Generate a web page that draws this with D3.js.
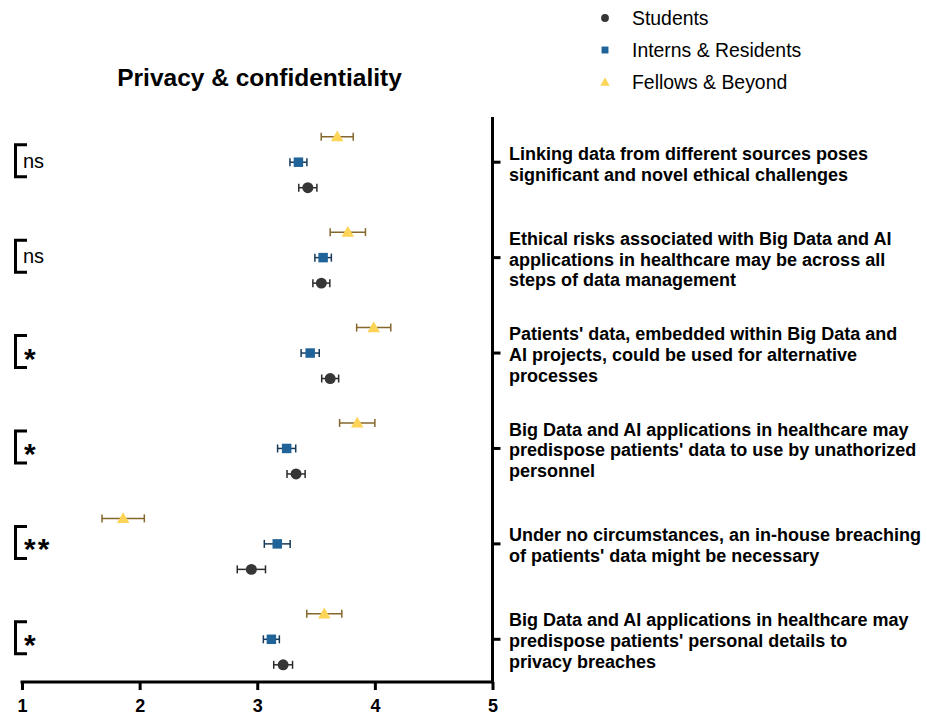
<!DOCTYPE html>
<html>
<head>
<meta charset="utf-8">
<script src="https://cdn.jsdelivr.net/npm/d3@7"></script>
<style>
  html, body { margin: 0; padding: 0; background: #fff; }
  svg { display: block; font-family: "Liberation Sans", Arial, sans-serif; }
</style>
</head>
<body>
<svg id="chart" width="927" height="717"></svg>
<script>
// Survey statements (top to bottom)
const statements = [
  ["Linking data from different sources poses", "significant and novel ethical challenges"],
  ["Ethical risks associated with Big Data and AI", "applications in healthcare may be across all", "steps of data management"],
  ["Patients' data, embedded within Big Data and", "AI projects, could be used for alternative", "processes"],
  ["Big Data and AI applications in healthcare may", "predispose patients' data to use by unathorized", "personnel"],
  ["Under no circumstances, an in-house breaching", "of patients' data might be necessary"],
  ["Big Data and AI applications in healthcare may", "predispose patients' personal details to", "privacy breaches"]
];
const statementIds = ["s1", "s2", "s3", "s4", "s5", "s6"];

const groupNames = ["Students", "Interns & Residents", "Fellows & Beyond"];

// Mean agreement score and error per group
const studentsMean = [3.43, 3.545, 3.62, 3.33, 2.95, 3.22];
const studentsErr  = [0.077, 0.072, 0.072, 0.077, 0.12, 0.08];
const internsMean  = [3.35, 3.56, 3.45, 3.25, 3.17, 3.12];
const internsErr   = [0.072, 0.07, 0.077, 0.077, 0.11, 0.068];
const fellowsMean  = [3.68, 3.77, 3.99, 3.85, 1.86, 3.57];
const fellowsErr   = [0.136, 0.15, 0.145, 0.15, 0.18, 0.149];

const significance = ["ns", "ns", "*", "*", "**", "*"];
const xTicks = [1, 2, 3, 4, 5];

const svg = d3.select("#chart");

const x = d3.scaleLinear().domain([1, 5]).range([22, 492.5]);
const y = d3.scaleBand().domain(statementIds).range([114.5, 687]);
const yc = id => y(id) + y.bandwidth() / 2;
// vertical offset of each group inside a statement row
const sub = d3.scalePoint().domain(["fellows", "interns", "students"]).range([-25.5, 25.5]);

const series = [
  { key: "students", name: groupNames[0], mean: studentsMean, err: studentsErr, fill: "#363636", bar: "#2b2b2b", shape: d3.symbolCircle, size: 95 },
  { key: "interns",  name: groupNames[1], mean: internsMean,  err: internsErr,  fill: "#1f6398", bar: "#173a58", shape: d3.symbolSquare, size: 90 },
  { key: "fellows",  name: groupNames[2], mean: fellowsMean,  err: fellowsErr,  fill: "#fdd456", bar: "#85672d", shape: d3.symbolTriangle, size: 68 }
];

// Title
svg.append("text")
  .attr("x", 259.5).attr("y", 86)
  .attr("text-anchor", "middle")
  .attr("font-size", 24.5).attr("font-weight", "bold")
  .attr("fill", "#000")
  .text("Privacy & confidentiality");

// Bottom axis
const axisY = 682;
const xAxis = svg.append("g").attr("transform", `translate(0,${axisY})`)
  .call(d3.axisBottom(x).tickValues(xTicks).tickFormat(d3.format("d")).tickSizeOuter(0).tickSizeInner(8).tickPadding(9));
xAxis.select(".domain").attr("stroke", "#000").attr("stroke-width", 3).attr("d", `M${x(1) - 1.5},0H${x(5) + 1.5}`);
xAxis.selectAll(".tick line").attr("stroke", "#000").attr("stroke-width", 3);
xAxis.selectAll(".tick text")
  .style("font-size", "18px").style("font-weight", "bold").style("font-family", "'Liberation Sans', Arial, sans-serif")
  .attr("fill", "#000");

// Right-hand category axis with statement labels
const yAxis = svg.append("g").attr("transform", `translate(${x(5)},0)`)
  .call(d3.axisRight(y).tickSizeOuter(0).tickSizeInner(8).tickFormat(""));
yAxis.select(".domain").attr("stroke", "#000").attr("stroke-width", 3).attr("d", `M0,117V${axisY + 1.5}`);
yAxis.selectAll(".tick line").attr("stroke", "#000").attr("stroke-width", 3);

const lineH = 20.8;
statementIds.forEach((id, i) => {
  const lines = statements[i];
  const c = yc(id) + 1.5;
  const t = svg.append("text")
    .attr("x", 509)
    .attr("font-size", 18).attr("font-weight", "bold").attr("fill", "#000");
  lines.forEach((ln, j) => {
    t.append("tspan")
      .attr("x", 509)
      .attr("y", c - (lines.length - 1) * lineH / 2 + j * lineH + 6.5)
      .text(ln);
  });
});

// Error bars and markers
series.forEach(s => {
  const g = svg.append("g");
  statementIds.forEach((id, i) => {
    const cy = yc(id) + sub(s.key);
    const lo = x(s.mean[i] - s.err[i]), hi = x(s.mean[i] + s.err[i]);
    g.append("line").attr("x1", lo).attr("x2", hi).attr("y1", cy).attr("y2", cy)
      .attr("stroke", s.bar).attr("stroke-width", 1.5);
    [lo, hi].forEach(xx => g.append("line").attr("x1", xx).attr("x2", xx).attr("y1", cy - 4).attr("y2", cy + 4)
      .attr("stroke", s.bar).attr("stroke-width", 1.5));
    g.append("path")
      .attr("d", d3.symbol().type(s.shape).size(s.size)())
      .attr("transform", `translate(${x(s.mean[i])},${cy + (s.key === "fellows" ? 1 : 0)})`)
      .attr("fill", s.fill);
  });
});

// Significance brackets
statementIds.forEach((id, i) => {
  const c = yc(id) - 1.5;
  svg.append("path")
    .attr("d", `M27,${c - 16}H15.5V${c + 16}H27`)
    .attr("fill", "none").attr("stroke", "#000").attr("stroke-width", 3);
  if (significance[i] === "ns") {
    svg.append("text").attr("x", 23).attr("y", c + 7)
      .attr("font-size", 20).attr("fill", "#000").text("ns");
  } else {
    svg.append("text").attr("x", 24).attr("y", c + 17)
      .attr("font-size", 30).attr("font-weight", "bold").attr("fill", "#000")
      .attr("letter-spacing", 2)
      .text(significance[i]);
  }
});

// Legend
const legend = svg.append("g");
series.forEach((s, i) => {
  const ly = 18 + i * 32;
  legend.append("path")
    .attr("d", d3.symbol().type(s.shape).size(s.key === "fellows" ? 38 : 48)())
    .attr("transform", `translate(605,${ly + (s.key === "fellows" ? 1 : 0)})`)
    .attr("fill", s.fill);
  legend.append("text")
    .attr("x", 632).attr("y", ly + 7)
    .attr("font-size", 19.4).attr("fill", "#000")
    .text(s.name);
});
</script>
</body>
</html>
